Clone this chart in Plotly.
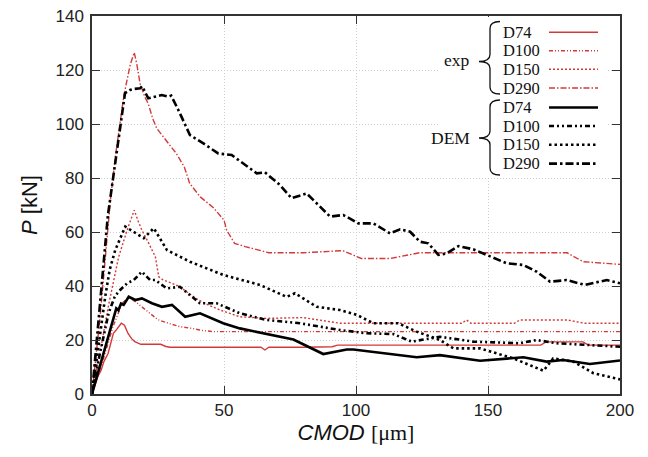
import plotly.graph_objects as go

# ---------------- data ----------------
exp_d74_x = [0, 1, 2, 3.5, 4.5, 6.1, 7, 8.1, 9, 10, 11.1, 12.3, 13.6, 15, 16.2, 18.5, 22, 26, 28, 29.5, 40, 55, 64, 65.5, 67, 80, 91, 93, 120, 150, 170, 172, 186, 188, 200]
exp_d74_y = [0, 3, 6, 8.9, 12, 15, 18, 22.5, 23.5, 25, 26.2, 25.5, 22.5, 20.5, 19.4, 18.4, 18.4, 18.4, 17.6, 17.3, 17.3, 17.3, 17.3, 16.3, 17.3, 17.3, 17.5, 18.1, 18.1, 18.1, 18.1, 19.3, 19.3, 18.1, 18.1]

exp_d100_x = [0, 4, 8, 11.4, 13, 14.5, 16, 18.9, 22.7, 25, 29, 33, 37.9, 42, 46, 60, 100, 150, 200]
exp_d100_y = [0, 12, 25, 33.6, 35, 35.5, 34.5, 32.3, 29.3, 27.5, 26.2, 25, 24.3, 23.5, 23.1, 23.1, 23.1, 23.1, 23.1]

exp_d150_x = [0, 3, 6.3, 9.2, 10.1, 13.3, 14.5, 16, 17.5, 18.9, 21.5, 24, 25.3, 27, 30.3, 33.3, 36.6, 40.4, 44, 48.5, 56, 66, 80, 94, 100, 140, 141.9, 143.5, 160, 162, 180, 186.7, 200]
exp_d150_y = [0, 15, 33, 46, 50.8, 60.7, 64, 68.1, 64, 60.7, 55.8, 50.8, 43.4, 42.2, 41, 39.7, 37.3, 34.8, 33, 31.1, 28.6, 28, 28.3, 26.2, 26.2, 26.2, 27.4, 26.2, 26.2, 27.4, 27.4, 26.2, 26.2]

exp_d290_x = [0, 3, 5, 7, 9, 10.5, 12, 13, 14.5, 16, 17, 18.2, 20, 21.3, 23, 24.5, 28, 32, 35, 37, 41, 46, 50, 51, 54, 58, 67, 80, 95, 100, 102, 113, 124, 150, 170, 180, 186, 200]
exp_d290_y = [0, 28, 50, 72, 89, 100, 110, 115, 122, 126.5, 122, 115, 110, 107.6, 102, 98.4, 94, 89, 84, 78, 73, 69, 64.4, 60.7, 55.8, 54.6, 52.3, 52.3, 53.1, 51, 50.2, 50.2, 52.3, 52.3, 52.3, 52.3, 49, 48]

dem_d74_x = [0, 4, 9.2, 10, 11, 12, 13.9, 16.4, 18.9, 22.7, 26.5, 30.3, 35.3, 40.9, 49.7, 56, 63.6, 76.3, 87.6, 96.5, 99, 123, 131.8, 147, 163.4, 172.2, 178.5, 188.6, 200]
dem_d74_y = [0, 14, 31.7, 31, 33.5, 33, 36, 34.8, 35.4, 33.6, 32.3, 33, 28.6, 29.9, 26.2, 24.3, 22.7, 20.2, 14.8, 16.5, 16.5, 13.6, 14.4, 12.3, 13.6, 12, 12.6, 11.1, 12.4]

dem_d100_x = [0, 3, 6.3, 8.6, 10.1, 13.3, 15.8, 18.9, 22, 24, 28.3, 33.3, 40.9, 47.2, 56, 66.2, 78.8, 93.9, 104, 114.1, 121.1, 131.8, 144.4, 162.1, 168.4, 176, 200]
dem_d100_y = [0, 15, 30, 36, 38, 41, 42.2, 45.3, 42.2, 42.2, 39.1, 39.7, 33.6, 33.6, 29.9, 27.4, 26.2, 23.7, 22.5, 22.2, 19.4, 21.2, 19.4, 18.8, 20, 18.8, 17.5]

dem_d150_x = [0, 3, 5, 6.7, 8.8, 12.6, 16.4, 19.6, 23.4, 28.4, 37.1, 49.7, 63.6, 73.7, 76.9, 85.1, 93.9, 100.3, 106.6, 116, 123, 131.8, 136.9, 147, 159.6, 171, 174.7, 182.3, 189.9, 200]
dem_d150_y = [0, 22, 36, 46, 53.3, 62, 59.5, 57.7, 61.4, 53.3, 49, 44.1, 40.4, 36, 37.3, 32.3, 31.1, 29.3, 26.2, 26.2, 23.1, 20, 16.9, 16.9, 13.2, 8.6, 13.2, 12, 7.7, 5.4]

dem_d290_x = [0, 3, 4.2, 6, 8, 10.6, 11.9, 12.5, 14.4, 16, 18.2, 19, 21.3, 24, 26.4, 28.9, 30, 32.7, 37.1, 42.2, 47.8, 52.9, 55.4, 62.4, 65.5, 71.2, 75.6, 81.3, 90.2, 95.2, 100.9, 106.6, 112.9, 116.7, 120.5, 124.2, 127.4, 131.2, 134.4, 138.8, 144.4, 149.5, 157.1, 163.4, 168.4, 173.5, 179.8, 186.7, 195, 200]
dem_d290_y = [0, 33, 46, 66, 80, 97.8, 106.4, 111.4, 112.6, 113, 113.2, 114, 109.5, 110, 110.7, 110.1, 110.5, 105.2, 95.9, 92.8, 89.1, 88.5, 86.7, 81.7, 82.1, 77.4, 72.5, 74.3, 65.7, 66.3, 63.2, 63.2, 59.5, 61, 60.1, 56.4, 55.8, 51.5, 52.1, 54.8, 53.6, 51.5, 48.4, 47.8, 45.3, 41.6, 42.2, 40.4, 42.2, 41]

x_ticks = [0, 50, 100, 150, 200]
y_ticks = [0, 20, 40, 60, 80, 100, 120, 140]
legend_groups = ["exp", "DEM"]
legend_labels = ["D74", "D100", "D150", "D290"]

# ---------------- styles ----------------
RED = "#d23a3a"
BLACK = "#000000"
exp_styles = [
    dict(color=RED, width=1.4, dash="solid"),
    dict(color=RED, width=1.4, dash="4px,2px,1px,2px,1px,2px"),
    dict(color=RED, width=1.4, dash="2px,2px"),
    dict(color=RED, width=1.4, dash="6px,2px,1.5px,2px"),
]
dem_styles = [
    dict(color=BLACK, width=2.6, dash="solid"),
    dict(color=BLACK, width=2.6, dash="5px,3px,2px,3px,2px,3px"),
    dict(color=BLACK, width=2.6, dash="2.5px,3px"),
    dict(color=BLACK, width=2.6, dash="8px,3px,2.5px,3px"),
]

exp_series = [(exp_d74_x, exp_d74_y), (exp_d100_x, exp_d100_y), (exp_d150_x, exp_d150_y), (exp_d290_x, exp_d290_y)]
dem_series = [(dem_d74_x, dem_d74_y), (dem_d100_x, dem_d100_y), (dem_d150_x, dem_d150_y), (dem_d290_x, dem_d290_y)]

fig = go.Figure()
for (xs, ys), st, lab in zip(exp_series, exp_styles, legend_labels):
    fig.add_trace(go.Scatter(x=xs, y=ys, mode="lines", line=st, name="exp " + lab, showlegend=False))
for (xs, ys), st, lab in zip(dem_series, dem_styles, legend_labels):
    fig.add_trace(go.Scatter(x=xs, y=ys, mode="lines", line=st, name="DEM " + lab, showlegend=False))

# ---------------- geometry (page has an 8px body margin) ----------------
OFF = 8
W, H = 648 - OFF, 457 - OFF
# plot area in page pixels
L, R, T, B = 92, 620, 16, 394


def px(xp):
    return (xp - L) / (R - L)


def py(yp):
    return (B - yp) / (B - T)


shapes = []
annotations = []

# white legend background
shapes.append(dict(type="rect", xref="paper", yref="paper", x0=px(438), x1=px(608), y0=py(176), y1=py(17),
                   fillcolor="white", line=dict(width=0), layer="above"))

label_y = [32.3, 50.7, 69.2, 88, 107.5, 126, 144.8, 163.6]
styles_all = exp_styles + dem_styles
for i, yy in enumerate(label_y):
    annotations.append(dict(xref="paper", yref="paper", x=px(501), y=py(yy), text=legend_labels[i % 4],
                            showarrow=False, xanchor="left", yanchor="middle",
                            font=dict(family="Liberation Serif", size=16.5, color="#111")))
    st = styles_all[i]
    shapes.append(dict(type="line", xref="paper", yref="paper", x0=px(549), x1=px(598), y0=py(yy), y1=py(yy),
                       line=dict(color=st["color"], width=st["width"], dash=st["dash"]), layer="above"))


def brace(xs, y1, ym, y2):
    xe, xt, r = xs + 10, xs - 11, 7
    pts = [
        f"M {px(xe)},{py(y1)}",
        f"Q {px(xs)},{py(y1)} {px(xs)},{py(y1 + r)}",
        f"L {px(xs)},{py(ym - r)}",
        f"Q {px(xs)},{py(ym)} {px(xt)},{py(ym)}",
        f"Q {px(xs)},{py(ym)} {px(xs)},{py(ym + r)}",
        f"L {px(xs)},{py(y2 - r)}",
        f"Q {px(xs)},{py(y2)} {px(xe)},{py(y2)}",
    ]
    return dict(type="path", xref="paper", yref="paper", path=" ".join(pts),
                line=dict(color="#111", width=1.3), layer="above")


shapes.append(brace(490, 21.5, 61.5, 94))
shapes.append(brace(490, 100, 138, 175))
for g, yy in zip(legend_groups, [60.5, 137.5]):
    annotations.append(dict(xref="paper", yref="paper", x=px(472), y=py(yy), text=g, showarrow=False,
                            xanchor="right", yanchor="middle",
                            font=dict(family="Liberation Serif", size=17.5, color="#111")))

axis_common = dict(
    showline=True, linecolor="#333", linewidth=1.5, mirror="ticks",
    ticks="inside", ticklen=8, tickwidth=1.2, tickcolor="#333",
    showgrid=True, gridcolor="#cfcfcf", gridwidth=1, griddash="1px,2px",
    zeroline=False, automargin=False, ticklabeloverflow="allow",
    tickfont=dict(family="Liberation Sans", size=17, color="#222"),
)

fig.update_layout(
    width=W, height=H,
    margin=dict(l=L - OFF, r=(W + OFF) - R, t=T - OFF, b=(H + OFF) - B),
    paper_bgcolor="white", plot_bgcolor="white",
    showlegend=False,
    shapes=shapes, annotations=annotations,
    xaxis=dict(range=[0, 200], tickvals=x_ticks, ticktext=[str(v) for v in x_ticks],
               title=dict(text="<i>CMOD</i> <span style='font-family:Liberation Serif'>[μm]</span>",
                          font=dict(family="Liberation Sans", size=22, color="#111"), standoff=4),
               **axis_common),
    yaxis=dict(range=[0, 140], tickvals=y_ticks, ticktext=[str(v) for v in y_ticks],
               ticklabelstandoff=3,
               title=dict(text="<i>P</i> [kN]", font=dict(family="Liberation Sans", size=22, color="#111"),
                          standoff=12),
               **axis_common),
)

fig.write_html("out.html")
